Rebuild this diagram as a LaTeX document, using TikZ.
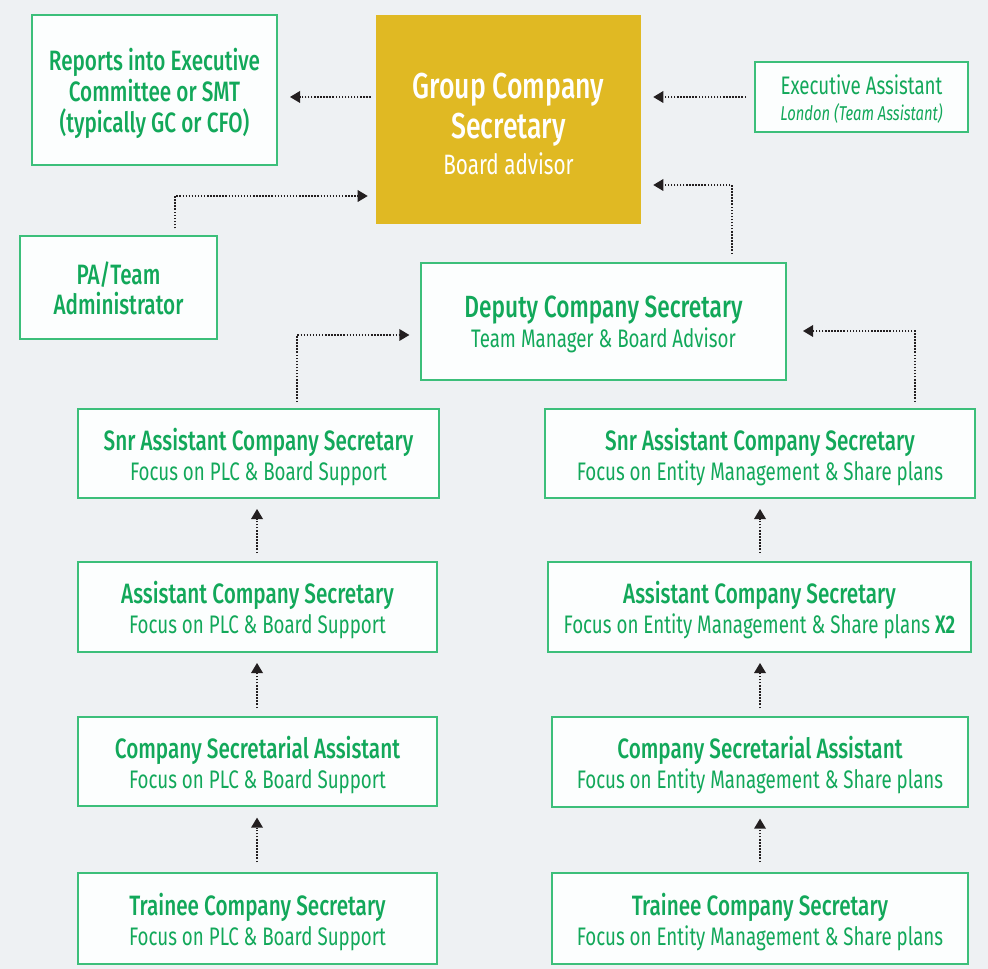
\documentclass[tikz,border=0pt]{standalone}
\usepackage{fontspec}
\setmainfont[FakeStretch=0.74]{Fira Sans}
\newfontfamily\titlefont[FakeStretch=0.74]{Fira Sans Medium}
\newfontfamily\boldfont[FakeStretch=0.74]{Fira Sans SemiBold}
\usetikzlibrary{arrows.meta}
\definecolor{bgc}{HTML}{EEF1F3}
\definecolor{boxfill}{HTML}{FCFEFE}
\definecolor{boxline}{HTML}{3CBF7A}
\definecolor{txtg}{HTML}{12A85A}
\definecolor{gold}{HTML}{E0B923}
\definecolor{ink}{HTML}{231F20}
\newcommand\tpad[1]{\rule{0pt}{#1}}
\newcommand\ttl[1]{{\titlefont\fontsize{21}{23.3}\selectfont #1}}
\newcommand\sub[1]{{\fontsize{19}{22.5}\selectfont #1}}
\tikzset{
  box/.style n args={2}{draw=boxline, line width=1.5pt, fill=boxfill,
    inner sep=0pt, minimum width=#1*0.75pt, minimum height=#2*0.75pt},
  txt/.style={align=center, text=txtg, inner sep=0pt, yshift=-2.6pt,
    font=\fontsize{19}{22.5}\selectfont},
  goldbox/.style n args={2}{fill=gold, text=white, align=center, inner sep=0pt,
    minimum width=#1*0.75pt, minimum height=#2*0.75pt,
    font=\fontsize{27}{30}\selectfont},
  link/.style={draw=ink, line width=1.2pt, dash pattern=on 1.1pt off 1.2pt,
    -{Triangle[length=7.5pt,width=9pt,line width=0pt]}}
}
\begin{document}
\begin{tikzpicture}[x=0.75pt,y=-0.75pt]
\fill[bgc] (0,0) rectangle (988,969);
\useasboundingbox (0,0) rectangle (988,969);

\node[box={245}{150}, label={[txt, yshift=0.3pt, font=\fontsize{21}{23.3}\selectfont]center:{\ttl{Reports into Executive}\\\ttl{Committee or SMT}\\\ttl{(typically GC or CFO)}}}] (reports) at (154.5,90) {};
\node[goldbox={265}{209}] (gcs) at (508.5,119.5) {{\titlefont\tpad{26.5pt}Group Company}\\{\titlefont Secretary}\\[-3pt]{\fontsize{21}{27}\selectfont Board advisor}};
\node[box={213}{70}, label={[txt, yshift=1.1pt, font=\fontsize{19}{19}\selectfont]center:{\sub{Executive Assistant}\\{\fontsize{15}{19}\selectfont\itshape London (Team Assistant)}}}] (ea) at (861.5,97) {};
\node[box={197}{103}, label={[txt, yshift=1.8pt]center:{\ttl{PA/Team}\\\ttl{Administrator}}}] (pa) at (118.5,287.5) {};
\node[box={365}{117}, label={[txt, yshift=0.6pt]center:{{\titlefont\fontsize{23}{23.3}\selectfont Deputy Company Secretary}\\\sub{Team Manager \& Board Advisor}}}] (dep) at (603.5,321.5) {};

\node[box={361}{89}, label={[txt]center:{\ttl{Snr Assistant Company Secretary}\\\sub{Focus on PLC \& Board Support}}}] (ls) at (258.5,453.5) {};
\node[box={430}{89}, label={[txt]center:{\ttl{Snr Assistant Company Secretary}\\\sub{Focus on Entity Management \& Share plans}}}] (rs) at (760,453.5) {};
\node[box={359}{90}, label={[txt]center:{\ttl{Assistant Company Secretary}\\\sub{Focus on PLC \& Board Support}}}] (la) at (257.5,607) {};
\node[box={423}{90}, label={[txt]center:{\ttl{Assistant Company Secretary}\\\sub{Focus on Entity Management \& Share plans {\boldfont X2}}}}] (ra) at (759.5,607) {};
\node[box={359}{89}, label={[txt]center:{\ttl{Company Secretarial Assistant}\\\sub{Focus on PLC \& Board Support}}}] (lc) at (257.5,761.5) {};
\node[box={416}{90}, label={[txt]center:{\ttl{Company Secretarial Assistant}\\\sub{Focus on Entity Management \& Share plans}}}] (rc) at (760,762) {};
\node[box={359}{91}, label={[txt]center:{\ttl{Trainee Company Secretary}\\\sub{Focus on PLC \& Board Support}}}] (lt) at (257.5,918.5) {};
\node[box={416}{91}, label={[txt]center:{\ttl{Trainee Company Secretary}\\\sub{Focus on Entity Management \& Share plans}}}] (rt) at (760,918.5) {};

% connectors
\draw[link, shorten <=3.75pt, shorten >=9pt] (gcs.west |- 0,97) -- (reports.east |- 0,97);
\draw[link, shorten <=6pt, shorten >=9pt] (ea.west) -- (gcs.east |- ea.west);
\draw[link, shorten <=5pt, shorten >=6pt] (pa.north -| 175,0) |- (gcs.west |- 0,196);
\draw[link, shorten <=6pt, shorten >=9pt] (dep.north -| 732,0) |- (gcs.east |- 0,185);
\draw[link, shorten <=4.5pt, shorten >=8pt] (ls.north -| 297,0) |- (dep.west |- 0,335);
\draw[link, shorten <=4.5pt, shorten >=12pt] (rs.north -| 915,0) |- (dep.east |- 0,331);

\draw[link, shorten <=6pt, shorten >=7.5pt] (la.north -| 257,0) -- (ls.south -| 257,0);
\draw[link, shorten <=6pt, shorten >=7.5pt] (lc.north -| 257,0) -- (la.south -| 257,0);
\draw[link, shorten <=7.5pt, shorten >=8pt] (lt.north -| 257,0) -- (lc.south -| 257,0);
\draw[link, shorten <=6pt, shorten >=7.5pt] (ra.north -| 760,0) -- (rs.south -| 760,0);
\draw[link, shorten <=6pt, shorten >=7.5pt] (rc.north -| 760,0) -- (ra.south -| 760,0);
\draw[link, shorten <=7.5pt, shorten >=8pt] (rt.north -| 760,0) -- (rc.south -| 760,0);
\end{tikzpicture}
\end{document}
